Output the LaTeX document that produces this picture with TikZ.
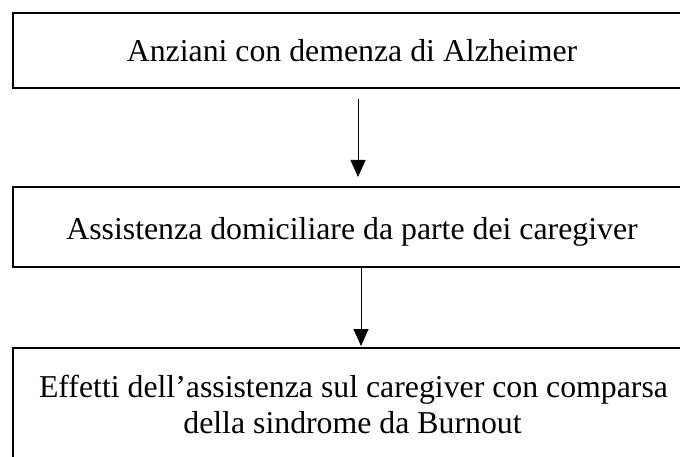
\documentclass[tikz,border=0pt]{standalone}
\usepackage{fontspec}
\setmainfont{Liberation Serif}
\usetikzlibrary{arrows.meta}
\begin{document}
\begin{tikzpicture}[x=1pt,y=1pt,
  flowbox/.style={draw=black, line width=2pt, rectangle, inner sep=0pt, minimum width=680pt},
  txt/.style={font=\fontsize{31.8}{36}\selectfont, inner sep=0pt, anchor=base},
  arr/.style={line width=1pt, -{Triangle[width=15pt,length=17pt]}}]
\clip (0,0) rectangle (680,-457);
\fill[white] (0,0) rectangle (680,-457);
\node[flowbox, minimum height=75pt] (b1) at (353,-50.5) {};
\node[flowbox, minimum height=80pt] (b2) at (353,-227) {};
\node[flowbox, minimum height=140pt] (b3) at (353,-418) {};
\node[txt] (t1) at (352,-62) {Anziani con demenza di Alzheimer};
\node[txt] (t2) at (352,-240) {Assistenza domiciliare da parte dei caregiver};
\node[txt] (t3a) at (353.5,-397) {Effetti dell’assistenza sul caregiver con comparsa};
\node[txt] (t3b) at (352.5,-433) {della sindrome da Burnout};
\draw[arr] ([xshift=5pt,yshift=-10pt]b1.south) -- ([xshift=5pt,yshift=9pt]b2.north);
\draw[arr] ([xshift=8pt]b2.south) -- ([xshift=8pt,yshift=1pt]b3.north);
\end{tikzpicture}
\end{document}
